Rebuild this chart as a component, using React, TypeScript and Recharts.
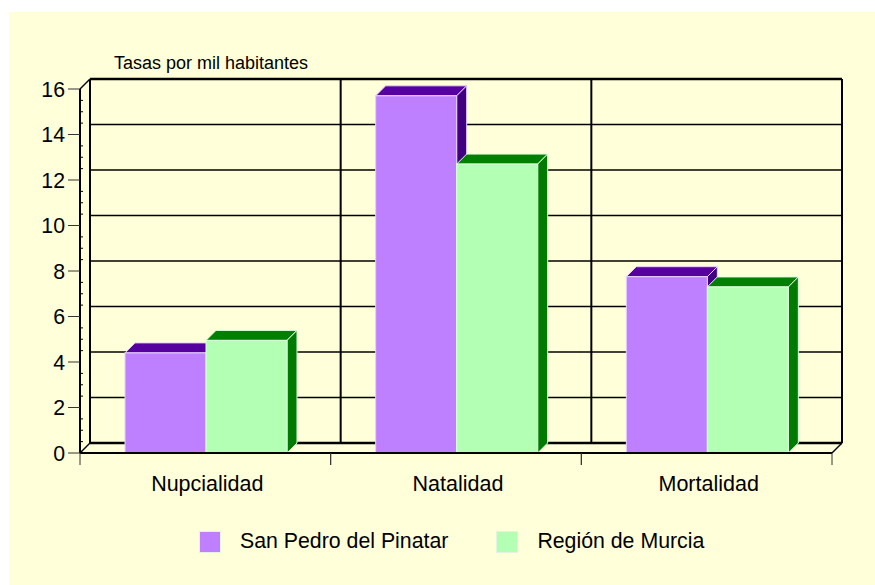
import { ComposedChart, Bar, XAxis, YAxis, CartesianGrid, Legend } from "recharts";

const categories = ["Nupcialidad", "Natalidad", "Mortalidad"];
const sanPedro = [4.4, 15.7, 7.75];
const murcia = [4.95, 12.7, 7.3];
const yMajorTicks = [0, 2, 4, 6, 8, 10, 12, 14, 16];
const yAllTicks = [0, 0.5, 1, 1.5, 2, 2.5, 3, 3.5, 4, 4.5, 5, 5.5, 6, 6.5, 7, 7.5, 8, 8.5, 9, 9.5, 10, 10.5, 11, 11.5, 12, 12.5, 13, 13.5, 14, 14.5, 15, 15.5, 16];
const yMax = 16;

const data = categories.map((name, i) => ({ name, sanPedro: sanPedro[i], murcia: murcia[i] }));

const FONT = "'Liberation Sans', Arial, sans-serif";
const DEPTH = 10;

// front face plus top and side, pushed back by DEPTH
function Bar3D(props: any) {
  const { y, width, height, fill, dark, sideDark, edge } = props;
  const x = props.x + 1;
  const top = `${x},${y} ${x + DEPTH},${y - DEPTH} ${x + width + DEPTH},${y - DEPTH} ${x + width},${y}`;
  const side = `${x + width},${y} ${x + width + DEPTH},${y - DEPTH} ${x + width + DEPTH},${y + height - DEPTH} ${x + width},${y + height}`;
  return (
    <g>
      <polygon points={top} fill={dark} stroke={edge} strokeWidth={1} />
      <polygon points={side} fill={sideDark} stroke={edge} strokeWidth={1} />
      <rect x={x} y={y} width={width} height={height} fill={fill} stroke={edge} strokeWidth={1} />
    </g>
  );
}

// grid sits on the back wall, corner diagonals tie it to the front axes
function BackHorizontal(props: any) {
  const { x1, x2, y1 } = props;
  const isFloor = y1 > 400;
  const isTop = y1 < 100;
  return (
    <g>
      <line
        x1={x1 + DEPTH}
        x2={x2 + DEPTH}
        y1={y1 - DEPTH}
        y2={y1 - DEPTH}
        stroke="#000"
        strokeWidth={isFloor || isTop ? 2.5 : 1.5}
      />
      {(isFloor || isTop) && <line x1={x1} x2={x1 + DEPTH} y1={y1} y2={y1 - DEPTH} stroke="#000" strokeWidth={1.5} />}
      {isFloor && <line x1={x2} x2={x2 + DEPTH} y1={y1} y2={y1 - DEPTH} stroke="#000" strokeWidth={1.5} />}
    </g>
  );
}

function BackVertical(props: any) {
  const { x1, y1, y2 } = props;
  return <line x1={x1 + DEPTH} x2={x1 + DEPTH} y1={y1 - DEPTH} y2={y2 - DEPTH} stroke="#000" strokeWidth={2} />;
}

// one vertical per category boundary, from the plot area the grid is handed
function boundaryLines({ offset }: any) {
  return [0, 1, 2, 3].map((i) => offset.left + (offset.width * i) / categories.length);
}

// the y axis carries every half unit, so the grid only keeps the labelled ones
function majorLines({ offset }: any) {
  return yMajorTicks.map((v) => offset.top + offset.height * (1 - v / yMax));
}

// label in the band centre, tick marks on the band edges
function CategoryTick({ x, y, payload }: any) {
  const half = payload.offset;
  return (
    <g>
      <line x1={x - half} x2={x - half} y1={y} y2={y + 12} stroke="#333" />
      <line x1={x + half} x2={x + half} y1={y} y2={y + 12} stroke="#333" />
      <text x={x + 2} y={y + 38} textAnchor="middle" fontFamily={FONT} fontSize={21.5} fill="#000">
        {payload.value}
      </text>
    </g>
  );
}

// labelled ticks stick out to the left, the half units are small dots inside
function ValueTick({ x, y, payload }: any) {
  if (!yMajorTicks.includes(payload.value)) {
    return <line x1={x} x2={x + 3} y1={y} y2={y} stroke="#000" />;
  }
  return (
    <g>
      <line x1={x - 12} x2={x} y1={y} y2={y} stroke="#333" />
      <text x={x - 15} y={y} dy="0.355em" textAnchor="end" fontFamily={FONT} fontSize={21.3} fill="#000">
        {payload.value}
      </text>
    </g>
  );
}

function LegendRow({ payload }: any) {
  return (
    <div style={{ display: "flex", fontFamily: FONT, fontSize: 21.3, color: "#000" }}>
      {payload.map((p: any) => (
        <div key={p.value} style={{ display: "flex", alignItems: "center", marginRight: 48 }}>
          <span style={{ width: 20, height: 20, background: p.color, border: "1px solid #e4f4e4", marginRight: 19 }} />
          <span>{p.value}</span>
        </div>
      ))}
    </div>
  );
}

export default function App() {
  return (
    <div style={{ position: "absolute", left: 9, top: 12, width: 866, height: 573, background: "#FFFFD9" }}>
      <ComposedChart
        width={866}
        height={573}
        data={data}
        margin={{ top: 77, right: 43, left: 0, bottom: 57 }}
        barGap={0}
        barSize={81}
      >
        <CartesianGrid
          horizontal={BackHorizontal}
          vertical={BackVertical}
          horizontalCoordinatesGenerator={majorLines}
          verticalCoordinatesGenerator={boundaryLines}
        />
        <Bar
          dataKey="sanPedro"
          name="San Pedro del Pinatar"
          fill="#BF80FF"
          isAnimationActive={false}
          shape={(p: any) => <Bar3D {...p} dark="#55009F" sideDark="#400080" edge="#E6CFFF" />}
        />
        <Bar
          dataKey="murcia"
          name="Región de Murcia"
          fill="#B3FFB3"
          isAnimationActive={false}
          shape={(p: any) => <Bar3D {...p} dark="#008000" sideDark="#007A00" edge="#DDFFDD" />}
        />
        <XAxis
          dataKey="name"
          height={50}
          interval={0}
          tickLine={false}
          tickSize={0}
          tickMargin={0}
          tick={CategoryTick}
          axisLine={{ stroke: "#000", strokeWidth: 2 }}
        />
        <YAxis
          domain={[0, yMax]}
          ticks={yAllTicks}
          width={71}
          interval={0}
          tickLine={false}
          tickSize={0}
          tickMargin={0}
          axisLine={{ stroke: "#000", strokeWidth: 2 }}
          tick={ValueTick}
        />
        <text x={105} y={57} fontFamily={FONT} fontSize={18} fill="#000">
          Tasas por mil habitantes
        </text>
        <Legend
          content={LegendRow}
          itemSorter={null}
          wrapperStyle={{ left: 190, bottom: 31, width: 600 }}
        />
      </ComposedChart>
    </div>
  );
}
